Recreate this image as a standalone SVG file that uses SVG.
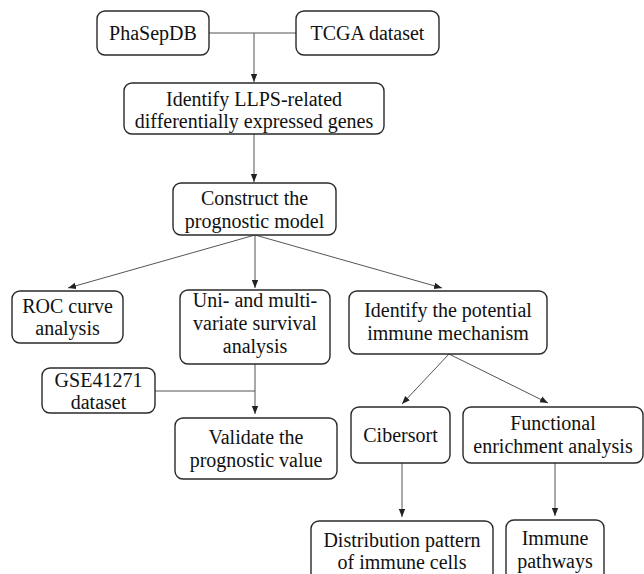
<svg xmlns="http://www.w3.org/2000/svg" width="644" height="574" viewBox="0 0 644 574">
<style>
.box{fill:#fff;stroke:#2a2a2a;stroke-width:1.4}
.t{font-family:"Liberation Serif","Times New Roman",serif;font-size:20px;fill:#111;text-anchor:middle}
.c{fill:none;stroke:#555;stroke-width:1}
</style>
<defs>
<marker id="ah" markerUnits="userSpaceOnUse" markerWidth="8" markerHeight="8" viewBox="0 0 8 8" refX="8" refY="4" orient="auto">
<path d="M0,0.8 L8,4 L0,7.2 Z" fill="#222"/>
</marker>
</defs>
<rect width="644" height="574" fill="#fff"/>
<g id="connectors">
<path class="c" d="M209,33 H296"/>
<path class="c" d="M254,33 V82" marker-end="url(#ah)"/>
<path class="c" d="M254,134 V182" marker-end="url(#ah)"/>
<path class="c" d="M255,235 L68,288" marker-end="url(#ah)"/>
<path class="c" d="M255,235 V288" marker-end="url(#ah)"/>
<path class="c" d="M255,235 L442,288" marker-end="url(#ah)"/>
<path class="c" d="M255,364 V414" marker-end="url(#ah)"/>
<path class="c" d="M155,391 H255"/>
<path class="c" d="M449,354 L402,404" marker-end="url(#ah)"/>
<path class="c" d="M449,354 L548,403" marker-end="url(#ah)"/>
<path class="c" d="M402,463 V517" marker-end="url(#ah)"/>
<path class="c" d="M555,463 V516" marker-end="url(#ah)"/>
</g>
<g id="phasepdb"><rect class="box" x="97" y="11" width="112" height="44" rx="8"/><text class="t" x="153" y="40">PhaSepDB</text></g>
<g id="tcga"><rect class="box" x="296" y="11" width="143" height="44" rx="8"/><text class="t" x="367.5" y="40">TCGA dataset</text></g>
<g id="llps"><rect class="box" x="124" y="83" width="260" height="51" rx="8"/><text class="t" x="254" y="106">Identify LLPS-related</text><text class="t" x="254" y="128">differentially expressed genes</text></g>
<g id="construct"><rect class="box" x="173" y="183" width="163" height="52" rx="8"/><text class="t" x="254.5" y="205">Construct the</text><text class="t" x="254.5" y="228">prognostic model</text></g>
<g id="roc"><rect class="box" x="12" y="291" width="111" height="52" rx="8"/><text class="t" x="67.5" y="313">ROC curve</text><text class="t" x="67.5" y="335">analysis</text></g>
<g id="survival"><rect class="box" x="180" y="290" width="150" height="74" rx="8"/><text class="t" x="255" y="307">Uni- and multi-</text><text class="t" x="255" y="330">variate survival</text><text class="t" x="255" y="353">analysis</text></g>
<g id="immune-mechanism"><rect class="box" x="349" y="291" width="198" height="63" rx="8"/><text class="t" x="448" y="317">Identify the potential</text><text class="t" x="448" y="340">immune mechanism</text></g>
<g id="gse"><rect class="box" x="42" y="368" width="113" height="45" rx="8"/><text class="t" x="98.5" y="387">GSE41271</text><text class="t" x="98.5" y="409">dataset</text></g>
<g id="validate"><rect class="box" x="175" y="418" width="162" height="61" rx="8"/><text class="t" x="256" y="444">Validate the</text><text class="t" x="256" y="467">prognostic value</text></g>
<g id="cibersort"><rect class="box" x="351" y="407" width="99" height="56" rx="8"/><text class="t" x="400.5" y="442">Cibersort</text></g>
<g id="functional"><rect class="box" x="463" y="407" width="180" height="56" rx="8"/><text class="t" x="553" y="430">Functional</text><text class="t" x="553" y="453">enrichment analysis</text></g>
<g id="distribution"><rect class="box" x="311" y="521" width="182" height="70" rx="8"/><text class="t" x="402" y="547">Distribution pattern</text><text class="t" x="402" y="569">of immune cells</text></g>
<g id="pathways"><rect class="box" x="506" y="520" width="98" height="70" rx="8"/><text class="t" x="555" y="545">Immune</text><text class="t" x="555" y="568">pathways</text></g>
</svg>
